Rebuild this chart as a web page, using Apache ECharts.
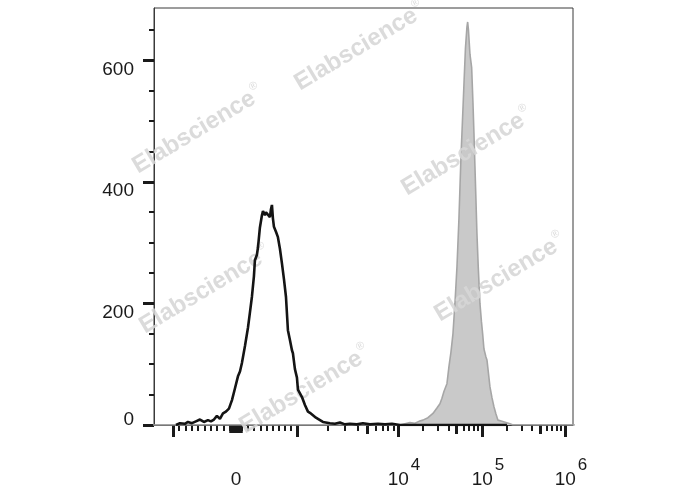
<!DOCTYPE html>
<html>
<head>
<meta charset="utf-8">
<script src="https://cdn.jsdelivr.net/npm/echarts@6/dist/echarts.min.js"></script>
<style>
html,body{margin:0;padding:0;background:#fff;}
#chart{width:688px;height:490px;}
</style>
</head>
<body>
<div id="chart"></div>
<script>
// ---- data (fluorescence intensity, event count) ----
const blackX = [-952,-889,-810,-762,-698,-635,-571,-508,-444,-397,-349,-302,-254,-206,-159,-111,-63,-16,33,66,98,148,197,229,262,295,311,344,361,393,426,443,475,492,524,557,574,590,606,623,656,688,721,754,787,820,852,885,918,934,967,1000,1023,1071,1121,1200,1285,1345,1440,1542,1614,1808,2122,2377,2665,2986,3347,3923,4502,5280,6340,7440,8720,10560,200000];
const blackY = [0,3,2,5,3,6,9,5,8,6,9,15,10,19,22,27,41,60,80,88,102,130,160,185,211,245,271,280,292,325,345,352,345,350,346,342,355,362,340,326,318,309,290,266,240,211,156,140,123,118,92,78,58,52,46,33,22,20,16,12,10,5,3,2,4,1,2,1,3,1,2,1,2,0,0];

const grayX = [-2000,10560,12120,13890,15940,17780,19840,22760,26100,29120,31620,33400,35280,38310,40470,42760,45160,47700,50400,53240,56230,58600,61050,63620,66290,67580,69070,71970,75410,78150,80320,82540,84830,87180,90360,94670,98630,101960,105700,111700,114900,119800,124800,132000,139500,147500,155900,174200,194600,217500,236300,2000000];
const grayY = [0,0,2,4,3,6,8,12,19,28,35,44,55,68,96,120,150,200,260,340,440,500,560,620,655,663,650,610,588,530,480,425,370,315,260,200,170,150,125,112,107,85,63,45,30,18,8,6,4,2,0,0];

const xLabelValues = [0, 10000, 100000, 1000000];
const xLabelBase = ['0', '10', '10', '10'];
const xLabelExp = ['', '4', '5', '6'];
const xMajorTicks = [-1000, 1000, 10000, 100000, 1000000];
const xMediumTicks = [5000, 50000, 500000];
const xMinorTicks = [-900,-800,-700,-600,-500,-400,-300,-200,-100,100,200,300,400,500,600,700,800,900,
  2000,3000,4000,6000,7000,8000,9000,20000,30000,40000,60000,70000,80000,90000,
  200000,300000,400000,600000,700000,800000,900000];
const xFineTicks = [-90,-80,-70,-60,-50,-40,-30,-20,-10,0,10,20,30,40,50,60,70,80,90];
const xRange = [-1540, 1250000];

const yMajorTicks = [0, 200, 400, 600];
const yMinorTicks = [50,100,150,250,300,350,450,500,550,650];
const yRange = [0, 686];

const watermarkText = 'Elabscience';

// ---- biexponential display transform ----
function T(v) {
  if (v >= 0) {
    if (v <= 1000) return 61 * v / 1000;
    if (v <= 1e4) return 61 + 101 * Math.log10(v / 1000);
    if (v <= 1e5) return 162 + 84 * Math.log10(v / 1e4);
    return 246 + 83 * Math.log10(v / 1e5);
  }
  if (v >= -1000) return 63 * v / 1000;
  return -63 - 101 * Math.log10(-v / 1000);
}

const FONT = 'Liberation Sans, Arial, sans-serif';
const xMin = T(xRange[0]), xMax = T(xRange[1]);

function xAxisBase(extra) {
  return Object.assign({
    type: 'value', gridIndex: 0, position: 'bottom', min: xMin, max: xMax,
    splitLine: {show: false},
    axisLine: {show: false, onZero: false},
    axisLabel: {show: false}
  }, extra);
}
function yAxisBase(extra) {
  return Object.assign({
    type: 'value', gridIndex: 0, position: 'left', min: yRange[0], max: yRange[1],
    splitLine: {show: false},
    axisLine: {show: false, onZero: false},
    axisLabel: {show: false}
  }, extra);
}

const chart = echarts.init(document.getElementById('chart'), null, {renderer: 'canvas'});

const wm = [[360, 47], [198, 130], [467, 152], [500, 278], [205, 290], [305, 390]].map(function (p) {
  return {
    type: 'text', x: p[0], y: p[1], rotation: 0.54, z: 3, silent: true,
    style: {
      text: '{a|' + watermarkText + '}{r|®}',
      align: 'center', verticalAlign: 'middle',
      rich: {
        a: {font: 'bold 24px ' + FONT, fill: 'rgba(214,214,214,0.88)'},
        r: {font: '11px ' + FONT, fill: 'rgba(214,214,214,0.88)', padding: [0, 0, 18, 1]}
      }
    }
  };
});

const option = {
  animation: false,
  backgroundColor: '#ffffff',
  grid: {left: 154, top: 8, width: 419, height: 417, show: true, borderColor: '#3a3a3a', borderWidth: 1, backgroundColor: 'transparent'},
  xAxis: [
    xAxisBase({
      axisLine: {show: true, onZero: false, lineStyle: {color: '#3a3a3a', width: 1}},
      axisTick: {show: true, customValues: xMajorTicks.map(T), length: 12, lineStyle: {color: '#1a1a1a', width: 3}},
      axisLabel: {
        show: true, customValues: xLabelValues.map(T), margin: 29,
        formatter: function (val) {
          for (let i = 0; i < xLabelValues.length; i++) {
            if (Math.abs(T(xLabelValues[i]) - val) < 1e-6) {
              if (!xLabelExp[i]) return '{b|' + xLabelBase[i] + '}';
              return '{pad|}{b|' + xLabelBase[i] + '}{sup|' + xLabelExp[i] + '}';
            }
          }
          return '';
        },
        rich: {
          b: {fontSize: 19, fontFamily: FONT, color: '#1a1a1a', padding: [16, 0, 0, 0]},
          sup: {fontSize: 17, fontFamily: FONT, color: '#1a1a1a', padding: [0, 0, 12, 2]},
          pad: {width: 12}
        }
      }
    }),
    xAxisBase({axisTick: {show: true, customValues: xMediumTicks.map(T), length: 9, lineStyle: {color: '#1a1a1a', width: 3}}}),
    xAxisBase({axisTick: {show: true, customValues: xMinorTicks.map(T), length: 6, lineStyle: {color: '#1a1a1a', width: 2}}}),
    xAxisBase({axisTick: {show: true, customValues: xFineTicks.map(T), length: 8, lineStyle: {color: '#1a1a1a', width: 2.5}}})
  ],
  yAxis: [
    yAxisBase({
      axisLine: {show: true, onZero: false, lineStyle: {color: '#3a3a3a', width: 1}},
      axisTick: {show: true, customValues: yMajorTicks, length: 11, lineStyle: {color: '#1a1a1a', width: 3}},
      axisLabel: {
        show: true, customValues: yMajorTicks, margin: 20,
        formatter: function (v) { return v === 0 ? '{up|0}' : '{dn|' + v + '}'; },
        rich: {
          up: {fontSize: 19, fontFamily: FONT, color: '#1a1a1a', padding: [0, 0, 10, 0]},
          dn: {fontSize: 19, fontFamily: FONT, color: '#1a1a1a', padding: [18, 0, 0, 0]}
        }
      }
    }),
    yAxisBase({axisTick: {show: true, customValues: yMinorTicks, length: 5, lineStyle: {color: '#1a1a1a', width: 2}}})
  ],
  series: [
    {
      type: 'line', name: 'stained', xAxisIndex: 0, yAxisIndex: 0, z: 2,
      data: grayX.map(function (x, i) { return [T(x), grayY[i]]; }),
      symbol: 'none', smooth: false, clip: true,
      lineStyle: {color: '#a6a6a6', width: 1.6},
      areaStyle: {color: '#c9c9c9', opacity: 1}
    },
    {
      type: 'line', name: 'control', xAxisIndex: 0, yAxisIndex: 0, z: 5,
      data: blackX.map(function (x, i) { return [T(x), blackY[i]]; }),
      symbol: 'none', smooth: false, clip: true,
      lineStyle: {color: '#141414', width: 2.6}
    }
  ],
  graphic: wm
};
chart.setOption(option);
</script>
</body>
</html>
